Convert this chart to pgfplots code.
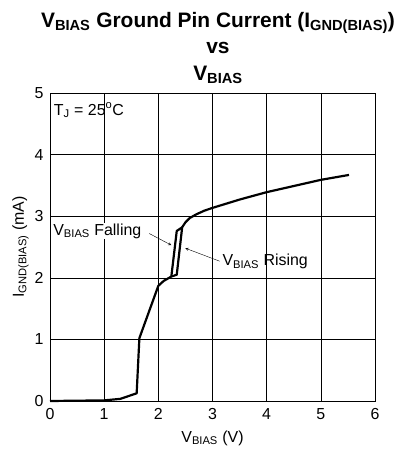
\documentclass[border=0pt]{standalone}
\usepackage{fontspec}
\setmainfont{Liberation Sans}
\usepackage{pgfplots}
\pgfplotsset{compat=1.18}
\newcommand\sub[1]{\textsubscript{#1}}
\begin{document}
\begin{tikzpicture}
\useasboundingbox (-50bp,-57bp) rectangle (357bp,401bp);
\begin{axis}[
  at={(0,0)}, anchor=south west,
  scale only axis, width=325bp, height=308bp,
  xmin=0, xmax=6, ymin=0, ymax=5,
  xtick={0,1,...,6}, ytick={0,1,...,5},
  grid=major, major grid style={black, line width=0.6pt},
  major tick length=0pt,
  axis line style={black, line width=0.9pt},
  tick label style={font=\fontsize{16}{18}\selectfont},
  /pgf/number format/assume math mode=true,
  xticklabel style={yshift=-4bp},
  yticklabel style={xshift=-3bp},
  xlabel={V\sub{BIAS} (V)},
  ylabel={I\sub{GND(BIAS)} (mA)},
  label style={font=\fontsize{16}{18}\selectfont},
  xlabel style={yshift=-4bp},
  ylabel style={yshift=-1bp},
  clip=false,
]
\addplot[black, line width=2.2pt, line join=round] coordinates {
 (0,0) (1.0,0.01) (1.3,0.035) (1.6,0.125) (1.65,1.02) (2.0,1.87) (2.1,1.95) (2.24,2.02) (2.34,2.05) (2.44,2.82)
 (2.5,2.9) (2.58,2.97) (2.7,3.03) (2.85,3.09) (3.0,3.135) (3.5,3.27) (4.0,3.39) (4.5,3.49) (5.0,3.59) (5.52,3.67)
};
\addplot[black, line width=2.2pt, line join=round] coordinates {
 (2.24,2.02) (2.34,2.76) (2.44,2.82)
};
\node[anchor=west, font=\fontsize{16}{18}\selectfont, inner sep=0pt] at (axis cs:0.07,4.72) {T\sub{J} = 25\textsuperscript{o}C};
\node[anchor=west, font=\fontsize{16}{18}\selectfont, fill=white, inner sep=1pt] at (axis cs:0.04,2.76) {V\sub{BIAS} Falling};
\draw[-stealth, thin] (axis cs:1.83,2.72) -- (axis cs:2.24,2.53);
\node[anchor=west, font=\fontsize{16}{18}\selectfont] at (axis cs:3.12,2.26) {V\sub{BIAS} Rising};
\draw[-stealth, thin] (axis cs:3.13,2.27) -- (axis cs:2.5,2.48);
\end{axis}
\node[align=center, font=\bfseries\fontsize{21}{27}\selectfont] at (168bp,353bp)
  {V\sub{BIAS} Ground Pin Current (I\sub{GND(BIAS)})\\vs\\V\sub{BIAS}};
\end{tikzpicture}
\end{document}
